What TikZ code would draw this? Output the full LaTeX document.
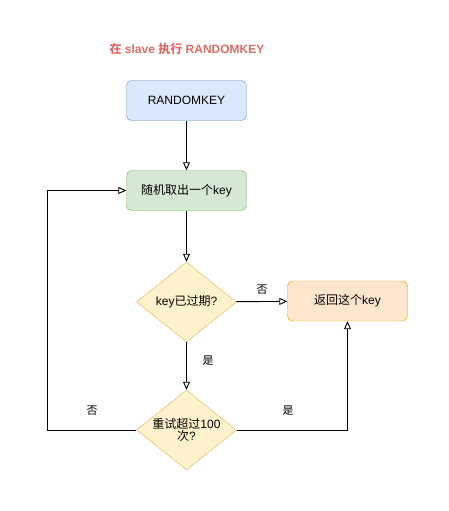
\documentclass[tikz,border=0pt]{standalone}
\usepackage{fontspec}
\setmainfont{Liberation Sans}
\newfontfamily\cjk{Noto Sans CJK SC}
\usetikzlibrary{arrows.meta,shapes.geometric}
\definecolor{bluefill}{HTML}{DAE8FC}\definecolor{blueline}{HTML}{6C8EBF}
\definecolor{greenfill}{HTML}{D5E8D4}\definecolor{greenline}{HTML}{82B366}
\definecolor{yelfill}{HTML}{FFF2CC}\definecolor{yelline}{HTML}{D6B656}
\definecolor{orfill}{HTML}{FFE6CC}\definecolor{orline}{HTML}{D79B00}
\definecolor{titlered}{HTML}{E06A64}
\tikzset{
  box/.style={draw, rounded corners=5pt, minimum width=120pt, minimum height=40pt, inner sep=0pt, font=\fontsize{12}{14}\selectfont},
  dia/.style={draw=yelline, fill=yelfill, diamond, minimum width=100pt, minimum height=80pt, inner sep=0pt, aspect=1.25, font=\fontsize{12}{14}\selectfont, align=center},
  conn/.style={line width=0.9pt, -{Triangle[open, length=8pt, width=7pt]}},
  lbl/.style={font=\fontsize{11}{13}\selectfont\cjk}
}
\begin{document}
\begin{tikzpicture}[x=1pt,y=-1pt]
\useasboundingbox (0,0) rectangle (448,511);
\node[font=\bfseries\fontsize{12}{14}\selectfont, text=titlered] (title) at (187,49) {{\cjk 在} slave {\cjk 执行} RANDOMKEY};
\node[box, draw=blueline, fill=bluefill] (rk) at (186.5,100.5) {RANDOMKEY};
\node[box, draw=greenline, fill=greenfill] (pick) at (186.5,190.5) {{\cjk 随机取出一个}key};
\node[dia, minimum width=100pt, minimum height=80pt] (exp) at (186.5,302) {key{\cjk 已过期}?};
\node[box, draw=orline, fill=orfill] (ret) at (347.5,301) {{\cjk 返回这个}key};
\node[dia] (retry) at (186.5,430) {{\cjk 重试超过}100\\[-2pt]{\cjk 次}?};
\coordinate (lb) at (47,430);
\coordinate (lt) at (47,190.5);
\coordinate (rb) at (347.5,430);
\draw[conn] (rk) -- (pick);
\draw[conn] (pick) -- (exp);
\draw[conn] (exp) -- (ret);
\draw[conn] (exp) -- (retry);
\draw[conn] (retry.west) -- (lb) -- (lt) -- (pick.west);
\draw[conn] (retry.east) -- (rb) -- (ret.south);
\node[lbl] at (262,290) {否};
\node[lbl] at (208,361) {是};
\node[lbl] at (92,411) {否};
\node[lbl] at (288,411) {是};
\end{tikzpicture}
\end{document}
